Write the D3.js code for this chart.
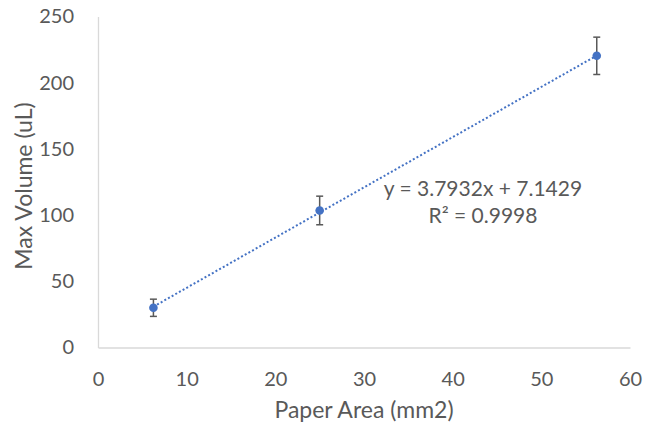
<!DOCTYPE html>
<html><head><meta charset="utf-8">
<script src="https://cdn.jsdelivr.net/npm/d3@7"></script>
<style>body{margin:0;background:#fff;} svg{display:block;font-family:Lato,"Open Sans",sans-serif;}</style>
</head><body>
<svg id="c" width="646" height="427"></svg>
<script>
const xValues = [6.25, 25, 56.25];
const yValues = [30, 103.5, 220.3];
const yErrors = [6.5, 10.8, 14.1];
const xTicks = [0, 10, 20, 30, 40, 50, 60];
const yTicks = [0, 50, 100, 150, 200, 250];
const slope = 3.7932, intercept = 7.1429;
const eqLines = ["y = 3.7932x + 7.1429", "R² = 0.9998"];

const svg = d3.select("#c");
const x = d3.scaleLinear().domain([0, 60]).range([98, 630]);
const y = d3.scaleLinear().domain([0, 250]).range([347.5, 16.5]);
const grey = "#595959";

const xa = svg.append("g").attr("transform", `translate(0,${y(0)})`)
  .call(d3.axisBottom(x).tickValues(xTicks).tickSize(0).tickPadding(24));
const ya = svg.append("g").attr("transform", `translate(${x(0)},0)`)
  .call(d3.axisLeft(y).tickValues(yTicks).tickSize(0).tickPadding(24));
[xa, ya].forEach(a => {
  a.select(".domain").attr("stroke", "#d9d9d9").attr("stroke-width", 1.3);
  a.selectAll("text").attr("fill", grey).style("font-size", "20px").style("font-family", "Lato");
});

// trendline
svg.append("line")
  .attr("x1", x(xValues[0])).attr("y1", y(slope * xValues[0] + intercept))
  .attr("x2", x(xValues[2])).attr("y2", y(slope * xValues[2] + intercept))
  .attr("stroke", "#4472c4").attr("stroke-width", 2).attr("stroke-dasharray", "2 2.2");

// error bars
const eb = svg.append("g").selectAll("g").data(xValues).join("g");
eb.append("line").attr("x1", (d) => x(d)).attr("x2", (d) => x(d))
  .attr("y1", (d, i) => y(yValues[i] + yErrors[i])).attr("y2", (d, i) => y(yValues[i] - yErrors[i]))
  .attr("stroke", grey).attr("stroke-width", 1.5);
[1, -1].forEach(s => {
  eb.append("line").attr("x1", (d) => x(d) - 3.5).attr("x2", (d) => x(d) + 3.5)
    .attr("y1", (d, i) => y(yValues[i] + s * yErrors[i])).attr("y2", (d, i) => y(yValues[i] + s * yErrors[i]))
    .attr("stroke", grey).attr("stroke-width", 1.5);
});

// points
svg.append("g").selectAll("circle").data(xValues).join("circle")
  .attr("cx", (d) => x(d)).attr("cy", (d, i) => y(yValues[i])).attr("r", 4.3)
  .attr("fill", "#4472c4");

// equation
svg.append("g").selectAll("text").data(eqLines).join("text")
  .attr("x", 483).attr("y", (d, i) => 196 + i * 27)
  .attr("text-anchor", "middle").attr("fill", grey).style("font-size", "21px")
  .text(d => d);

// axis titles
svg.append("text").attr("x", 364).attr("y", 418).attr("text-anchor", "middle")
  .attr("fill", grey).style("font-size", "23px").text("Paper Area (mm2)");
svg.append("text").attr("transform", "translate(32,186) rotate(-90)").attr("text-anchor", "middle")
  .attr("fill", grey).style("font-size", "23px").text("Max Volume (uL)");
</script>
</body></html>
